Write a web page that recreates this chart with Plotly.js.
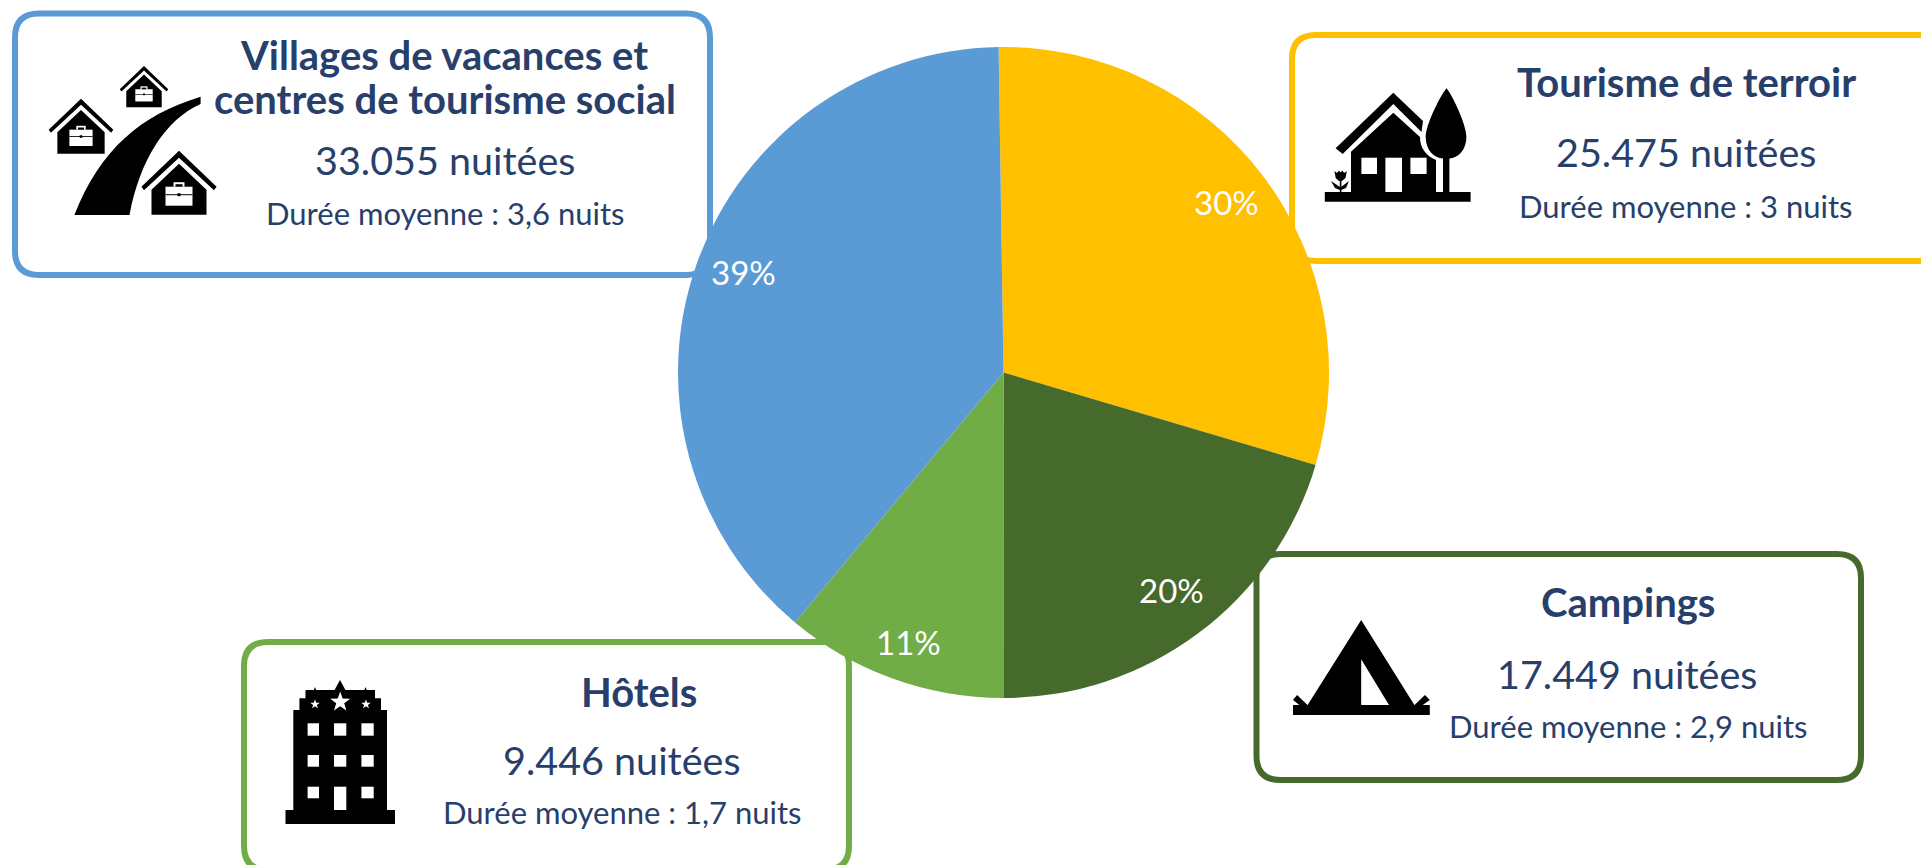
<!DOCTYPE html>
<html><head><meta charset="utf-8">
<script src="https://cdn.plot.ly/plotly-3.0.1.min.js"></script>
<style>html,body{margin:0;padding:0;background:#fff}#c{width:1921px;height:865px}</style></head>
<body><div id="c"></div>
<script>
const categories = ["Tourisme de terroir","Campings","Hôtels","Villages de vacances et centres de tourisme social"];
const nuitees = [25475,17449,9446,33055];
const nuiteesLabels = ["25.475 nuitées","17.449 nuitées","9.446 nuitées","33.055 nuitées"];
const dureeLabels = ["Durée moyenne : 3 nuits","Durée moyenne : 2,9 nuits","Durée moyenne : 1,7 nuits","Durée moyenne : 3,6 nuits"];
const colors = ["#FFC000","#46692C","#70AD47","#5B9BD5"];
const labelNudge = [[0,-1],[1,-7],[0,6],[4,-7]];

const W=1921,H=865;
const PIE={cx:1003.5,cy:372.5,r:325.5,rot:-0.86};
const TEXT="#27406B";
const FONT="Lato, 'Noto Sans', sans-serif";

const px=x=>x/W, py=y=>1-y/H;
function P(d){
  return d.replace(/(-?[\d.]+)[ ,]+(-?[\d.]+)/g,(m,a,b)=>px(+a).toFixed(6)+","+py(+b).toFixed(6));
}
function poly(pts){return "M"+pts.map(p=>p[0]+" "+p[1]).join(" L")+" Z";}
function rect(x0,y0,x1,y1){return poly([[x0,y0],[x1,y0],[x1,y1],[x0,y1]]);}
function star(cx,cy,r){
  const out=[];for(let i=0;i<10;i++){const a=-Math.PI/2+i*Math.PI/5,q=i%2?r*0.4:r;out.push([cx+q*Math.cos(a),cy+q*Math.sin(a)]);}
  return poly(out);
}
function rr(x0,y0,x1,y1,r){
  return `M${x0+r} ${y0} L${x1-r} ${y0} Q${x1} ${y0} ${x1} ${y0+r} L${x1} ${y1-r} Q${x1} ${y1} ${x1-r} ${y1} L${x0+r} ${y1} Q${x0} ${y1} ${x0} ${y1-r} L${x0} ${y0+r} Q${x0} ${y0} ${x0+r} ${y0} Z`;
}
const shapes=[];
function fillShape(d,c){shapes.push({type:"path",xref:"paper",yref:"paper",layer:"below",path:P(d),fillcolor:c,line:{width:0}});}
function box(x0,y0,x1,y1,c){shapes.push({type:"path",xref:"paper",yref:"paper",layer:"below",path:P(rr(x0,y0,x1,y1,24)),fillcolor:"#fff",line:{color:c,width:6}});}
const K="#000",Wh="#fff";

box(15,13.5,710,275,colors[3]);
box(1292,35,1960,261,colors[0]);
box(1256.5,554,1861,780,colors[1]);
box(244,642,849,870,colors[2]);

fillShape("M74.4 215 C100 150 140 115 200.6 96.7 L200.6 104 C165 120 140 160 129.5 215 Z",K);
function house(cx,ay,s){
  const m=pts=>pts.map(p=>[cx+p[0]*s,ay+p[1]*s]);
  fillShape(poly(m([[0,0],[37.6,36],[35,39.5],[0,7],[-35,39.5],[-37.6,36]])),K);
  fillShape(poly(m([[0,13],[27.5,39],[27.5,64],[-27.5,64],[-27.5,39]])),K);
  fillShape(poly(m([[-13.5,36],[13.5,36],[13.5,55],[-13.5,55]])),Wh);
  fillShape(poly(m([[-5.5,31.5],[5.5,31.5],[5.5,36],[-5.5,36]])),Wh);
  fillShape(poly(m([[-3.5,33.5],[3.5,33.5],[3.5,36],[-3.5,36]])),K);
  fillShape(poly(m([[-13.5,43.5],[13.5,43.5],[13.5,44.5],[-13.5,44.5]])),K);
  fillShape(poly(m([[-1.5,42.5],[1.5,42.5],[1.5,45.5],[-1.5,45.5]])),K);
}
house(179,150.7,1); house(81,98.7,0.86); house(144,66,0.645);

fillShape(rect(1324.8,192,1470.6,201.7),K);
fillShape(poly([[1393.3,92.7],[1423,121],[1421.5,132],[1393.3,104],[1342.7,154],[1335.6,148.3]]),K);
fillShape("M1393.3 112.7 L1420 137 C1420 148 1426 156 1436 160 L1436 192 L1351 192 L1351 151.7 Z",K);
fillShape(rect(1361.4,157.7,1377,174),Wh);
fillShape(rect(1385.4,157.7,1402,192),Wh);
fillShape(rect(1410.4,157.7,1426.6,174),Wh);
fillShape("M1446.5 88.3 C1440 96 1425.7 125 1425.7 137 C1425.7 150 1434 158 1443 158.5 L1443 192 L1449.4 192 L1449.4 158.5 C1458 158 1466.4 150 1466.4 137 C1466.4 125 1453 96 1446.5 88.3 Z",K);
fillShape(poly([[1334.4,171],[1337,173],[1339,170.5],[1340.6,172.5],[1342.2,170.5],[1344.2,173],[1346.8,171],[1345.5,178],[1342,181],[1339,181],[1335.7,178]]),K);
fillShape(rect(1339.8,180,1341.4,192),K);
fillShape(poly([[1331,181],[1340,187],[1340,190],[1335,188]]),K);
fillShape(poly([[1349,181],[1341,187],[1341,190],[1346,188]]),K);

fillShape(rect(285.5,810,395,824),K);
fillShape(rect(293.3,710,387,811),K);
fillShape(rect(299.4,698.3,381,711),K);
fillShape(rect(305.5,690,375,699),K);
fillShape(poly([[340,680],[346,691],[334,691]]),K);
fillShape(poly([[315,687],[316.5,691],[313.5,691]]),K);
fillShape(poly([[365.5,687],[367,691],[364,691]]),K);
fillShape(star(340.2,702,10.5),Wh);
fillShape(star(315,704.3,5),Wh);
fillShape(star(366,704.3,5),Wh);
[[307.6,319],[334,346.3],[361.4,373.7]].forEach((c,i)=>{
  [[723.3,735.7],[755,766.7],[786.7,798.3]].forEach((r,j)=>{
    fillShape(rect(c[0],r[0],c[1],(i==1&&j==2)?810:r[1]),Wh);
  });
});

fillShape(rect(1293,705,1429.8,715),K);
fillShape(poly([[1361.2,620],[1414.7,705.5],[1307.3,705.5]]),K);
fillShape(poly([[1361.2,659.3],[1389,705],[1361.2,705]]),Wh);
fillShape(poly([[1293,700],[1297.1,695],[1308,705.5],[1300,705.5]]),K);
fillShape(poly([[1429.8,700],[1425,695],[1414,705.5],[1422,705.5]]),K);

const annotations=[];
function txt(s,cx,base,size){
  annotations.push({xref:"paper",yref:"paper",x:px(cx),y:py(base-size*0.34),xanchor:"center",yanchor:"middle",showarrow:false,borderpad:0,
    text:s,font:{family:FONT,size:size,color:TEXT}});
}
const T=40,N=39.5,D=31;
txt("<b>Villages de vacances et</b>",444,69,T);
txt("<b>centres de tourisme social</b>",445,113,T);
txt(nuiteesLabels[3],445,173,N); txt(dureeLabels[3],445,224,D);
txt("<b>"+categories[0]+"</b>",1686,96,T);
txt(nuiteesLabels[0],1686,165,N); txt(dureeLabels[0],1685,217,D);
txt("<b>"+categories[2]+"</b>",639,706,T);
txt(nuiteesLabels[2],622,773,N); txt(dureeLabels[2],622,823,D);
txt("<b>"+categories[1]+"</b>",1628,616,T);
txt(nuiteesLabels[1],1627,687,N); txt(dureeLabels[1],1628,737,D);

const total=nuitees.reduce((a,b)=>a+b,0);
let acc=0;
nuitees.forEach((v,i)=>{
  const mid=(PIE.rot+(acc+v/2)/total*360)*Math.PI/180; acc+=v;
  const q=PIE.r*0.86;
  annotations.push({xref:"paper",yref:"paper",x:px(PIE.cx+q*Math.sin(mid)+labelNudge[i][0]),y:py(PIE.cy-q*Math.cos(mid)+labelNudge[i][1]),
    xanchor:"center",yanchor:"middle",showarrow:false,borderpad:0,
    text:Math.round(v/total*100)+"%",font:{family:FONT,size:33,color:"#fff"}});
});

Plotly.newPlot("c",[{
  type:"pie",labels:categories,values:nuitees,sort:false,direction:"clockwise",rotation:PIE.rot,
  marker:{colors:colors,line:{width:0}},textinfo:"none",showlegend:false,
  domain:{x:[(PIE.cx-PIE.r)/W,(PIE.cx+PIE.r)/W],y:[1-(PIE.cy+PIE.r)/H,1-(PIE.cy-PIE.r)/H]}
}],{width:W,height:H,margin:{l:0,r:0,t:0,b:0},paper_bgcolor:"#fff",showlegend:false,shapes:shapes,annotations:annotations},{displayModeBar:false,staticPlot:true});
</script></body></html>
